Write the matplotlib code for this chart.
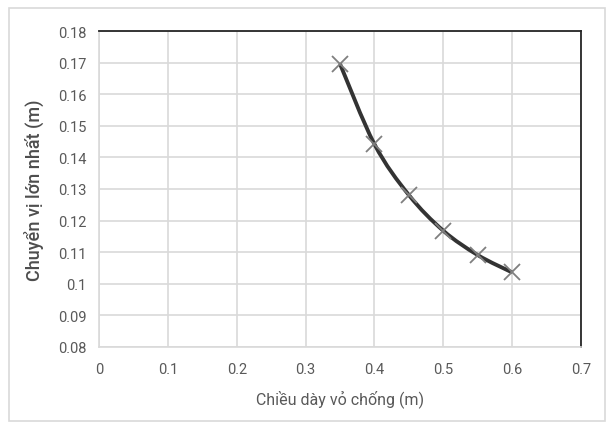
import numpy as np
import matplotlib.pyplot as plt
from matplotlib.path import Path
from matplotlib.patches import PathPatch, Rectangle

plt.rcParams['font.family'] = ['Roboto', 'Open Sans', 'DejaVu Sans']

thickness = [0.35, 0.40, 0.45, 0.50, 0.55, 0.60]
displacement = [0.1696, 0.1442, 0.1281, 0.1168, 0.1091, 0.1036]

x_ticks = [0, 0.1, 0.2, 0.3, 0.4, 0.5, 0.6, 0.7]
y_ticks = [0.08, 0.09, 0.1, 0.11, 0.12, 0.13, 0.14, 0.15, 0.16, 0.17, 0.18]
x_labels = ['0', '0.1', '0.2', '0.3', '0.4', '0.5', '0.6', '0.7']
y_labels = ['0.08', '0.09', '0.1', '0.11', '0.12', '0.13', '0.14', '0.15', '0.16', '0.17', '0.18']

fig = plt.figure(figsize=(6.13, 4.31), dpi=100)
ax = fig.add_axes([99 / 613, 83 / 431, 482 / 613, 316 / 431])

# outer chart border like the Excel chart area
fig.patches.append(Rectangle((9 / 613, 9 / 431), 596 / 613, 413 / 431,
                             transform=fig.transFigure, fill=False,
                             edgecolor='#d9d9d9', linewidth=1.2))

# smoothed line (Catmull-Rom style, as Excel does)
px = np.array(thickness)
py = np.array(displacement)
verts = [(px[0], py[0])]
codes = [Path.MOVETO]
n = len(px)
for i in range(n - 1):
    p0 = np.array([px[max(i - 1, 0)], py[max(i - 1, 0)]])
    p1 = np.array([px[i], py[i]])
    p2 = np.array([px[i + 1], py[i + 1]])
    p3 = np.array([px[min(i + 2, n - 1)], py[min(i + 2, n - 1)]])
    c1 = p1 + (p2 - p0) / 6
    c2 = p2 - (p3 - p1) / 6
    verts += [tuple(c1), tuple(c2), tuple(p2)]
    codes += [Path.CURVE4] * 3
ax.add_patch(PathPatch(Path(verts, codes), fill=False, edgecolor='#333333',
                       linewidth=2.8, zorder=3))

ax.plot(thickness, displacement, linestyle='none', marker='x', markersize=11,
        markeredgewidth=1.3, color='#7f7f7f', zorder=4)

ax.set_xlim(0, 0.7)
ax.set_ylim(0.08, 0.18)
ax.set_xticks(x_ticks)
ax.set_xticklabels(x_labels)
ax.set_yticks(y_ticks)
ax.set_yticklabels(y_labels)
ax.tick_params(length=0, labelsize=10.5, labelcolor='#595959')
ax.tick_params(axis='x', pad=11)
ax.tick_params(axis='y', pad=9)
ax.grid(True, color='#d9d9d9', linewidth=1.2)
ax.set_axisbelow(True)

for side in ['left', 'bottom']:
    ax.spines[side].set_color('#d9d9d9')
    ax.spines[side].set_linewidth(1.2)
for side in ['top', 'right']:
    ax.spines[side].set_color('#262626')
    ax.spines[side].set_linewidth(1.3)

ax.set_xlabel('Chiều dày vỏ chống (m)', fontsize=11.5, color='#595959', labelpad=9)
ax.set_ylabel('Chuyển vị lớn nhất (m)', fontsize=13, color='#4d4d4d',
              fontweight='medium', labelpad=10)

plt.savefig('out.png', dpi=100)
